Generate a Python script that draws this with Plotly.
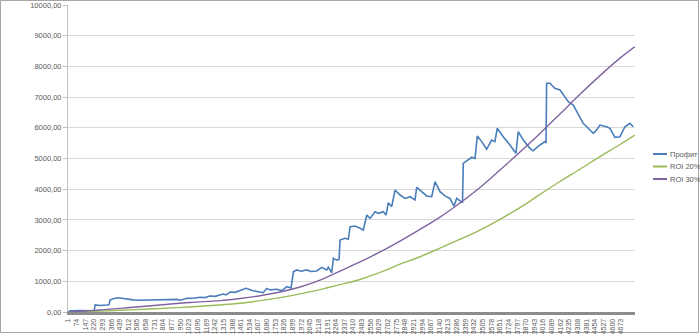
import plotly.graph_objects as go

# ---------------- data ----------------
profit_cat = [1, 18, 102, 204, 221, 229, 271, 330, 347, 356, 381, 423, 457, 499, 550, 609, 694, 778, 863,
              922, 947, 1006, 1057, 1116, 1158, 1200, 1243, 1311, 1336, 1370, 1412, 1454, 1505, 1564, 1606,
              1649, 1680, 1708, 1764, 1809, 1849, 1877, 1885, 1905, 1933, 1970, 2018, 2054, 2102, 2145, 2187,
              2200, 2229, 2243, 2271, 2291, 2299, 2341, 2369, 2384, 2426, 2468, 2496, 2525, 2553, 2595, 2623,
              2665, 2688, 2707, 2736, 2764, 2806, 2848, 2891, 2933, 2947, 2989, 3031, 3074, 3102, 3144, 3186,
              3228, 3262, 3285, 3327, 3334, 3341, 3375, 3412, 3440, 3459, 3496, 3538, 3580, 3608, 3628, 3678,
              3735, 3786, 3805, 3848, 3904, 3930, 3989, 4031, 4040, 4045, 4073, 4115, 4158, 4186, 4228, 4270,
              4312, 4354, 4397, 4439, 4467, 4496, 4552, 4580, 4622, 4665, 4707, 4749, 4777]
profit_val = [0, 40, 45, 35, 40, 230, 210, 230, 240, 390, 430, 465, 440, 410, 395, 385, 395, 410, 405,
              410, 385, 445, 450, 480, 470, 520, 510, 585, 560, 650, 640, 700, 770, 695, 670,
              630, 770, 720, 740, 700, 825, 790, 780, 1310, 1370, 1330, 1370, 1320, 1335, 1455, 1370,
              1455, 1280, 1750, 1690, 1720, 2345, 2400, 2370, 2780, 2800, 2725, 2670, 3160, 3050, 3265, 3215,
              3265, 3160, 3560, 3430, 3975, 3810, 3700, 3755, 3650, 4060, 3920, 3780, 3755, 4245, 3920, 3780,
              3700, 3450, 3700, 3590, 3560, 4840, 4950, 5040, 5000, 5730, 5550, 5300, 5600, 5550, 5985, 5710,
              5440, 5170, 5875, 5600, 5330, 5250, 5440, 5550, 5500, 7450, 7450, 7285, 7230, 7070, 6850, 6740,
              6415, 6145, 5985, 5820, 5930, 6090, 6035, 5985, 5690, 5710, 6035, 6145, 6035]

roi_cat = [1, 271, 525, 778, 1032, 1285, 1454, 1623, 1792, 1961, 2130, 2299, 2468, 2637, 2806, 2975,
           3144, 3313, 3482, 3651, 3820, 3989, 4158, 4327, 4496, 4665, 4790]
roi20_val = [0, 30, 70, 115, 165, 230, 285, 370, 470, 590, 730, 890, 1060, 1290, 1560, 1800,
             2080, 2370, 2670, 3020, 3400, 3830, 4250, 4650, 5060, 5455, 5765]
roi30_val = [0, 65, 145, 230, 310, 370, 440, 530, 650, 815, 1040, 1335, 1630, 1955, 2310, 2690,
             3090, 3550, 4055, 4625, 5210, 5815, 6450, 7090, 7700, 8270, 8640]

series_names = ["Профит", "ROI 20%", "ROI 30%"]
series_colors = ["#4A7EBB", "#9BBB59", "#8064A2"]

x_tick_vals = [1, 74, 147, 220, 293, 366, 439, 512, 585, 658, 731, 804, 877, 950, 1023, 1096, 1169, 1242,
               1315, 1388, 1461, 1534, 1607, 1680, 1753, 1826, 1899, 1972, 2045, 2118, 2191, 2264, 2337,
               2410, 2483, 2556, 2629, 2702, 2775, 2848, 2921, 2994, 3067, 3140, 3213, 3286, 3359, 3432,
               3505, 3578, 3651, 3724, 3797, 3870, 3943, 4016, 4089, 4162, 4235, 4308, 4381, 4454, 4527,
               4600, 4673]
y_tick_vals = [0, 1000, 2000, 3000, 4000, 5000, 6000, 7000, 8000, 9000, 10000]
y_tick_text = ["0,00", "1000,00", "2000,00", "3000,00", "4000,00", "5000,00", "6000,00",
               "7000,00", "8000,00", "9000,00", "10000,00"]

# ---------------- figure ----------------
W, H = 700, 334
ML, MR, MT, MB = 68, 65, 5, 22
PW, PH = W - ML - MR, H - MT - MB

fig = go.Figure()
fig.add_trace(go.Scatter(x=profit_cat, y=profit_val, mode="lines", name=series_names[0],
                         line=dict(color=series_colors[0], width=1.6)))
fig.add_trace(go.Scatter(x=roi_cat, y=roi20_val, mode="lines", name=series_names[1],
                         line=dict(color=series_colors[1], width=1.4, shape="spline")))
fig.add_trace(go.Scatter(x=roi_cat, y=roi30_val, mode="lines", name=series_names[2],
                         line=dict(color=series_colors[2], width=1.4, shape="spline")))

font_family = "Liberation Sans, Arial, sans-serif"
fig.update_layout(
    width=W, height=H,
    margin=dict(l=ML, r=MR, t=MT, b=MB, pad=0, autoexpand=False),
    paper_bgcolor="white", plot_bgcolor="white",
    showlegend=False,
    font=dict(family=font_family, size=7, color="#595959"),
    xaxis=dict(range=[0, 4792], tickmode="array", tickvals=x_tick_vals,
               ticktext=[str(v) for v in x_tick_vals], tickangle=-90, automargin=False,
               showgrid=False, zeroline=False, showline=True, linecolor="#8C8C8C", linewidth=3,
               ticks="", tickfont=dict(size=7, color="#595959"), ticklabelstandoff=1),
    yaxis=dict(range=[0, 10000], tickmode="array", tickvals=y_tick_vals, ticktext=y_tick_text,
               automargin=False,
               showgrid=True, gridcolor="#D9D9D9", gridwidth=1, zeroline=False,
               showline=True, linecolor="#BFBFBF", linewidth=1,
               ticks="outside", ticklen=4, tickcolor="#BFBFBF",
               tickfont=dict(size=7.5, color="#595959")),
)

# outer chart border
fig.add_shape(type="rect", xref="paper", yref="paper",
              x0=-(ML - 0.5) / PW, x1=1 + (MR - 1.5) / PW,
              y0=-(MB - 1.5) / PH, y1=1 + (MT - 0.5) / PH,
              line=dict(color="#A6A6A6", width=1), fillcolor="rgba(0,0,0,0)", layer="below")

# legend drawn manually (short line samples like the original)
leg_y_px = [154, 166.5, 179]
for name, color, ypx in zip(series_names, series_colors, leg_y_px):
    yp = (H - MB - ypx) / PH
    fig.add_shape(type="line", xref="paper", yref="paper",
                  x0=(653 - ML) / PW, x1=(667 - ML) / PW, y0=yp, y1=yp,
                  line=dict(color=color, width=2))
    fig.add_annotation(xref="paper", yref="paper", x=(668 - ML) / PW, y=yp, text=name,
                       showarrow=False, xanchor="left", yanchor="middle",
                       font=dict(size=7.5, color="#595959", family=font_family))

fig.write_html("out.html")
